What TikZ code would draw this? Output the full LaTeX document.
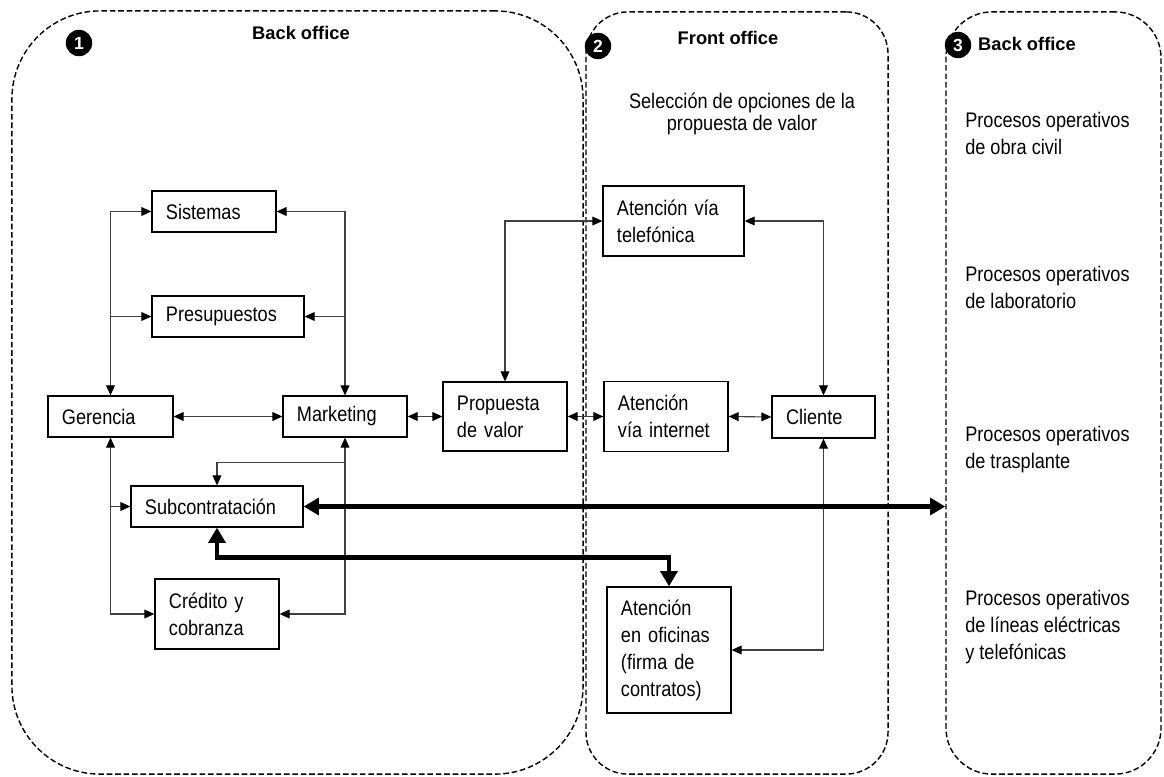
\documentclass[tikz,border=0pt]{standalone}
\usepackage{fontspec}
\setmainfont{Liberation Sans}[FakeStretch=0.86]
\newfontfamily\fuentetitulo{Liberation Sans}
\usetikzlibrary{arrows.meta}

\tikzset{
	caja/.style args={#1:#2}{
		draw, line width=0.9pt, text width=#1, minimum height=#2,
		inner xsep=0.35cm, inner ysep=0pt, align=left,
		font=\fontsize{15}{19.2}\selectfont
	},
	zona/.style args={#1:#2:#3}{
		draw, dash pattern=on 4pt off 2pt, line width=1pt,
		minimum width=#1, minimum height=#2, rounded corners=#3, inner sep=0pt
	},
	numero/.style={circle, fill=black, text=white, inner sep=0pt, minimum size=0.66cm,
		font=\fuentetitulo\bfseries\fontsize{12.5}{12.5}\selectfont},
	titulo/.style={font=\fuentetitulo\bfseries\fontsize{13}{15}\selectfont},
	flecha/.style={draw=black!75, line width=0.8pt, -{Triangle[length=0.25cm,width=0.22cm,color=black]}},
	flechas/.style={flecha, {Triangle[length=0.25cm,width=0.22cm,color=black]}-{Triangle[length=0.25cm,width=0.22cm,color=black]}},
	gruesa/.style={draw=black, line width=3.2pt, {Triangle[length=0.38cm,width=0.42cm]}-{Triangle[length=0.38cm,width=0.42cm]}}
}

\begin{document}
\begin{tikzpicture}[x=0.025cm,y=-0.025cm]
	\useasboundingbox (0,0) rectangle (1164,776);
	
	%% zonas punteadas
	\node[zona=14.275cm:19.075cm:2.2cm] (zona1) at (297.5,392.5) {};
	\node[zona=7.55cm:19.05cm:1.05cm] (zona2) at (737,393) {};
	\node[zona=5.375cm:19.05cm:1.15cm] (zona3) at (1053.5,393) {};
	
	\foreach \i/\x/\y in {1/79/43,2/598/46,3/958/45}{
		\node[numero] (num\i) at (\x,\y) {\i};
	}
	\node[titulo] (titulo1) at (301,33) {Back office};
	\node[titulo] (titulo2) at (728,38) {Front office};
	\node[titulo] (titulo3) at (1027,44) {Back office};
	
	\node[align=center, font=\fontsize{15}{15.5}\selectfont] (seleccion) at (742,114) {Selección de opciones de la\\propuesta de valor};
	
	%% procesos operativos
	\foreach \i/\y/\t in {1/133/{de obra civil},2/287/{de laboratorio},3/450/{de trasplante},4/627/{de líneas eléctricas\\y telefónicas}}{
		\node[anchor=west, align=left, inner sep=0pt, font=\fontsize{15}{19.2}\selectfont] (proc\i) at (965,\y) {Procesos operativos\\\t};
	}
	
	%% cajas
	\node[caja=2.4cm:1.025cm] (sistemas) at (214,211.5) {Sistemas};
	\node[caja=3.1cm:1.025cm] (presupuestos) at (228,316.5) {Presupuestos};
	\node[caja=2.425cm:1.025cm] (gerencia) at (110.5,416.5) {Gerencia};
	\node[caja=2.4cm:1.025cm] (marketing) at (345,416.5) {Marketing};
	\node[caja=2.4cm:1.725cm] (propuesta) at (505,416.5) {Propuesta\\de valor};
	\node[caja=2.4cm:1.75cm] (internet) at (666,416.5) {Atención\\vía internet};
	\node[caja=1.875cm:1.05cm] (cliente) at (823.5,417) {Cliente};
	\node[caja=2.825cm:1.75cm] (telefonica) at (673.5,221) {Atención vía\\telefónica};
	\node[caja=3.6cm:1.025cm] (subcontratacion) at (217,506.5) {Subcontratación};
	\node[caja=2.4cm:1.75cm] (credito) at (217,614) {Crédito y\\cobranza};
	\node[caja=2.4cm:3.15cm] (oficinas) at (669,650) {Atención\\en oficinas\\(firma de\\contratos)};
	
	%% conexiones
	\draw[flechas] (gerencia.north) |- (sistemas.west);
	\draw[flecha] (gerencia.north |- presupuestos.west) -- (presupuestos.west);
	\draw[flechas] (marketing.north) |- (sistemas.east);
	\draw[flecha] (marketing.north |- presupuestos.east) -- (presupuestos.east);
	\draw[flechas] (gerencia.east) -- (marketing.west);
	\draw[flechas] (marketing.east) -- (propuesta.west);
	\draw[flechas] (propuesta.east) -- (internet.west);
	\draw[flechas] (internet.east) -- (cliente.west);
	\draw[flechas] (propuesta.north) |- (telefonica.west);
	\draw[flechas] (cliente.north) |- (telefonica.east);
	\draw[flechas] (cliente.south) |- (oficinas.east);
	\draw[flechas] (marketing.south) |- (credito.east);
	\draw[flecha] (marketing.south) ++(0,25) -| (subcontratacion.north);
	\draw[flechas] (gerencia.south) |- (credito.west);
	\draw[flecha] (gerencia.south |- subcontratacion.west) -- (subcontratacion.west);
	
	%% flechas gruesas
	\draw[gruesa] (subcontratacion.east) -- (subcontratacion.east -| zona3.west);
	\draw[gruesa] (subcontratacion.south) -- ++(0,30) -| (oficinas.north);
\end{tikzpicture}
\end{document}
